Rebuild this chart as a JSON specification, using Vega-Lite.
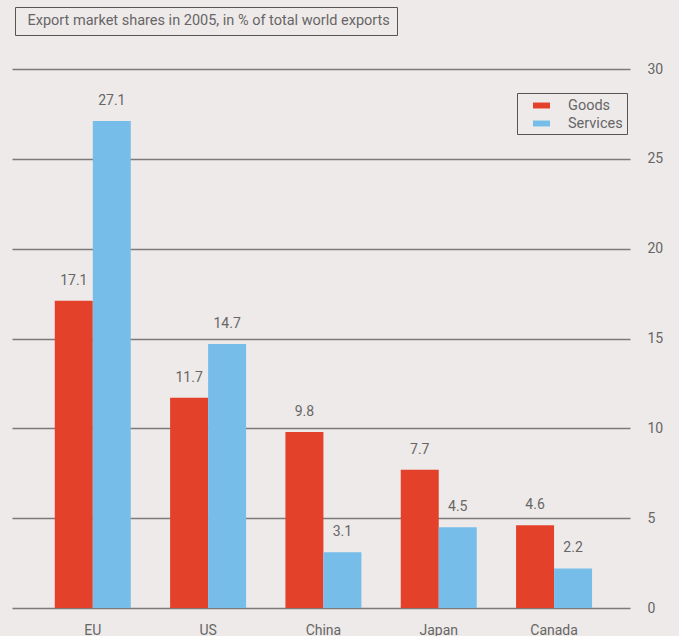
{
  "$schema": "https://vega.github.io/schema/vega-lite/v6.json",
  "autosize": {"type": "none"},
  "padding": {"left": 12, "top": 69, "right": 49, "bottom": 28},
  "width": 618,
  "height": 539,
  "background": "#EEEAE9",
  "config": {
    "view": {"stroke": null},
    "font": "Roboto",
    "axis": {"labelFont": "Roboto", "labelColor": "#666666", "labelFontSize": 14},
    "legend": {"labelFont": "Roboto", "labelColor": "#666666", "labelFontSize": 14}
  },
  "data": {
    "values": [
      {"region": "EU", "type": "Goods", "share": 17.1},
      {"region": "EU", "type": "Services", "share": 27.1},
      {"region": "US", "type": "Goods", "share": 11.7},
      {"region": "US", "type": "Services", "share": 14.7},
      {"region": "China", "type": "Goods", "share": 9.8},
      {"region": "China", "type": "Services", "share": 3.1},
      {"region": "Japan", "type": "Goods", "share": 7.7},
      {"region": "Japan", "type": "Services", "share": 4.5},
      {"region": "Canada", "type": "Goods", "share": 4.6},
      {"region": "Canada", "type": "Services", "share": 2.2}
    ]
  },
  "encoding": {
    "x": {
      "field": "region", "type": "nominal", "sort": null,
      "scale": {"paddingInner": 0.341, "paddingOuter": 0.35, "align": 0.53},
      "axis": {"title": null, "domain": false, "ticks": false, "labelAngle": 0, "labelPadding": 15, "labelBaseline": "top"}
    },
    "xOffset": {"field": "type", "type": "nominal", "scale": {"paddingInner": 0, "paddingOuter": 0}},
    "y": {
      "field": "share", "type": "quantitative",
      "scale": {"domain": [0, 30], "nice": false},
      "axis": {
        "orient": "right", "title": null, "values": [0, 5, 10, 15, 20, 25, 30],
        "domain": false, "ticks": false, "grid": true,
        "gridColor": "#7d7a79", "gridWidth": 1.6, "gridOpacity": 1,
        "labelPadding": 17, "labelAlign": "left"
      }
    }
  },
  "layer": [
    {
      "mark": {"type": "bar"},
      "encoding": {
        "color": {
          "field": "type", "type": "nominal",
          "scale": {"domain": ["Goods", "Services"], "range": ["#E3412A", "#76BEE9"]},
          "legend": {
            "title": null, "orient": "none", "legendX": 505, "legendY": 24,
            "symbolType": "M-1,-0.35H1V0.35H-1Z", "symbolSize": 289, "symbolStrokeWidth": 0,
            "symbolOffset": 12, "labelOffset": 18, "rowPadding": 3, "padding": 4,
            "labelFontSize": 14.5, "strokeColor": "#555555"
          }
        }
      }
    },
    {
      "mark": {"type": "text", "baseline": "alphabetic", "dy": -16, "fontSize": 14, "color": "#666666", "font": "Roboto"},
      "encoding": {"text": {"field": "share", "type": "quantitative", "format": ".1f"}}
    },
    {
      "data": {"values": [{"caption": "Export market shares in 2005, in % of total world exports"}]},
      "mark": {"type": "point", "opacity": 0},
      "encoding": {
        "x": null, "xOffset": null, "y": null,
        "shape": {
          "field": "caption", "type": "nominal",
          "legend": {
            "title": null, "orient": "none", "legendX": 3, "legendY": -62,
            "symbolSize": 0, "symbolOpacity": 0, "labelOffset": -9, "padding": 7,
            "labelLimit": 600, "strokeColor": "#555555", "labelFontSize": 14.5
          }
        }
      }
    }
  ]
}
